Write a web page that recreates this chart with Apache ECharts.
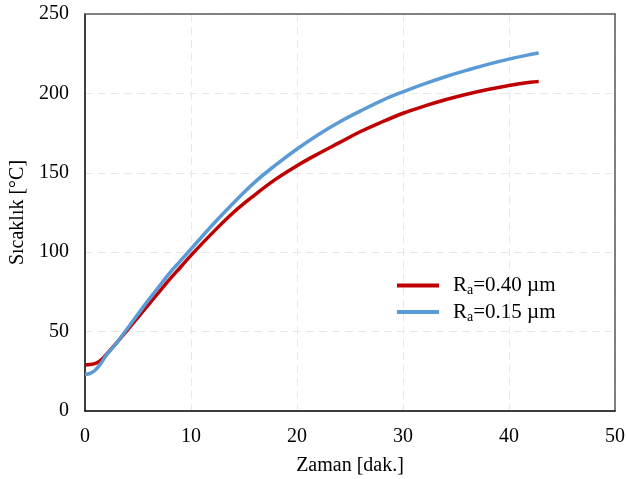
<!DOCTYPE html>
<html>
<head>
<meta charset="utf-8">
<script src="https://cdn.jsdelivr.net/npm/echarts@6/dist/echarts.min.js"></script>
<style>
  html, body { margin: 0; padding: 0; background: #fff; }
  #char { width: 627px; height: 479px; }
</style>
</head>
<body>
<div id="char"></div>
<script>
// veriler (okunan değerler)
var timeRed  = [0, 0.5, 1, 1.5, 2, 3, 4, 5, 6, 7, 8, 9, 10, 12, 14, 16, 18, 20, 22, 24, 26, 28, 30, 32, 34, 36, 38, 40, 42, 42.8];
var tempRed  = [29, 29.3, 30, 32, 35.5, 43, 51, 59, 67, 75, 83, 90.5, 98, 112, 125, 136, 146, 154.5, 162, 169, 176, 182, 187.5, 192, 196, 199.5, 202.5, 205, 207, 207.5];
var timeBlue = [0, 0.5, 1, 1.5, 2, 3, 4, 5, 6, 7, 8, 9, 10, 12, 14, 16, 18, 20, 22, 24, 26, 28, 30, 32, 34, 36, 38, 40, 42, 42.8];
var tempBlue = [23, 23.7, 26, 30, 35, 43, 52, 61, 70, 78.5, 87, 94.5, 102, 117, 131, 144, 155, 165, 174, 182, 189, 195.5, 201, 206, 210.5, 214.5, 218.3, 221.6, 224.5, 225.5];
var seriesNames = ['Ra=0.40 µm', 'Ra=0.15 µm'];
var legendText = {
    'Ra=0.40 µm': '{p|R}{s|a}{r|=0.40 µm}',
    'Ra=0.15 µm': '{p|R}{s|a}{r|=0.15 µm}'
};

function pairs(xs, ys) {
    var out = [];
    for (var i = 0; i < xs.length; i++) {
        out.push([xs[i], ys[i]]);
    }
    return out;
}

var font = "'Liberation Serif', 'Times New Roman', serif";
var gridLine = { show: true, lineStyle: { color: '#e8e8e8', type: [8, 5], width: 1 } };
var myChart = echarts.init(document.getElementById('char'));

option = {
    animation: false,
    textStyle: { fontFamily: font },
    grid: {
        left: 85, top: 14, width: 530, height: 397,
        outerBoundsMode: 'none',
        containLabel: false
    },
    legend: {
        orient: 'vertical',
        left: 392,
        top: 270,
        itemWidth: 42,
        itemHeight: 4,
        itemGap: 4,
        icon: 'rect',
        data: seriesNames,
        formatter: function (name) { return legendText[name]; },
        textStyle: {
            rich: {
                p: { fontFamily: font, fontSize: 21, color: '#000', padding: [0, 0, 0, 9] },
                r: { fontFamily: font, fontSize: 21, color: '#000' },
                s: { fontFamily: font, fontSize: 14, color: '#000', padding: [10, 0, 0, 0] }
            }
        }
    },
    xAxis: [{
        type: 'value',
        min: 0, max: 50, interval: 10,
        name: 'Zaman [dak.]',
        nameLocation: 'middle',
        nameGap: 45,
        nameTextStyle: { fontFamily: font, fontSize: 20, color: '#000' },
        axisLine: { onZero: false, lineStyle: { color: '#000', width: 1.5 } },
        axisTick: { show: false },
        axisLabel: { fontFamily: font, fontSize: 20, color: '#000', margin: 16 },
        splitLine: gridLine
    }, {
        // üst çerçeve
        type: 'value', position: 'top',
        min: 0, max: 50, interval: 10,
        axisLine: { show: true, onZero: false, lineStyle: { color: '#595959', width: 1.5 } },
        axisTick: { show: false }, axisLabel: { show: false }, splitLine: { show: false }
    }],
    yAxis: [{
        type: 'value',
        min: 0, max: 250, interval: 50,
        name: 'Sıcaklık [°C]',
        nameLocation: 'middle',
        nameGap: 57,
        nameTextStyle: { fontFamily: font, fontSize: 20, color: '#000' },
        axisLine: { show: true, onZero: false, lineStyle: { color: '#000', width: 1.5 } },
        axisTick: { show: false },
        axisLabel: { fontFamily: font, fontSize: 20, color: '#000', margin: 16 },
        splitLine: gridLine
    }, {
        // sağ çerçeve
        type: 'value', position: 'right',
        min: 0, max: 250, interval: 50,
        axisLine: { show: true, onZero: false, lineStyle: { color: '#595959', width: 1.5 } },
        axisTick: { show: false }, axisLabel: { show: false }, splitLine: { show: false }
    }],
    series: [
        {
            name: seriesNames[0],
            type: 'line',
            smooth: 0.4,
            showSymbol: false,
            data: pairs(timeRed, tempRed),
            itemStyle: { color: '#c00000' },
            lineStyle: { color: '#c00000', width: 3.5 },
            z: 2
        },
        {
            name: seriesNames[1],
            type: 'line',
            smooth: 0.4,
            showSymbol: false,
            data: pairs(timeBlue, tempBlue),
            itemStyle: { color: '#5b9bd5' },
            lineStyle: { color: '#5b9bd5', width: 3.5 },
            z: 3
        }
    ]
};
myChart.setOption(option);
</script>
</body>
</html>
